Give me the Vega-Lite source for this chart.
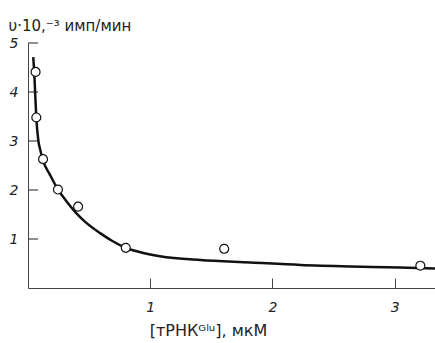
{
  "$schema": "https://vega.github.io/schema/vega-lite/v6.json",
  "autosize": "none",
  "width": 407,
  "height": 245,
  "padding": {"left": 28, "top": 43, "right": 0, "bottom": 55},
  "background": "white",
  "config": {
    "view": {"stroke": null},
    "axis": {
      "grid": false,
      "domainColor": "#444",
      "domainWidth": 1,
      "labelFont": "DejaVu Sans",
      "labelFontStyle": "italic",
      "labelFontSize": 14,
      "labelColor": "#222",
      "titleFont": "DejaVu Sans",
      "titleFontWeight": "normal",
      "titleColor": "#222"
    }
  },
  "datasets": {
    "curve": [
      {"c": 0.043, "v": 4.71},
      {"c": 0.052, "v": 4.35},
      {"c": 0.060, "v": 3.90},
      {"c": 0.068, "v": 3.48},
      {"c": 0.084, "v": 3.02},
      {"c": 0.100, "v": 2.82},
      {"c": 0.123, "v": 2.60},
      {"c": 0.180, "v": 2.31},
      {"c": 0.245, "v": 2.01},
      {"c": 0.305, "v": 1.80},
      {"c": 0.387, "v": 1.55},
      {"c": 0.468, "v": 1.35},
      {"c": 0.590, "v": 1.12},
      {"c": 0.690, "v": 0.96},
      {"c": 0.800, "v": 0.82},
      {"c": 0.920, "v": 0.73},
      {"c": 1.080, "v": 0.65},
      {"c": 1.410, "v": 0.57},
      {"c": 1.820, "v": 0.52},
      {"c": 2.230, "v": 0.47},
      {"c": 2.640, "v": 0.44},
      {"c": 3.040, "v": 0.42},
      {"c": 3.330, "v": 0.40}
    ],
    "points": [
      {"c": 0.062, "v": 4.41},
      {"c": 0.068, "v": 3.48},
      {"c": 0.123, "v": 2.63},
      {"c": 0.245, "v": 2.01},
      {"c": 0.410, "v": 1.66},
      {"c": 0.800, "v": 0.82},
      {"c": 1.605, "v": 0.80},
      {"c": 3.210, "v": 0.455}
    ],
    "yticks": [
      {"v": 1}, {"v": 2}, {"v": 3}, {"v": 4}, {"v": 5}
    ]
  },
  "layer": [
    {
      "data": {"name": "yticks"},
      "mark": {"type": "rule", "color": "#444", "strokeWidth": 1.2, "clip": false},
      "encoding": {
        "x": {"datum": 0, "type": "quantitative"},
        "x2": {"datum": 0.082},
        "y": {"field": "v", "type": "quantitative"}
      }
    },
    {
      "data": {"name": "curve"},
      "mark": {"type": "line", "interpolate": "monotone", "color": "#111", "strokeWidth": 2.5, "clip": true},
      "encoding": {
        "x": {
          "field": "c", "type": "quantitative",
          "scale": {"domain": [0, 3.33], "nice": false, "zero": false},
          "axis": {
            "values": [1, 2, 3],
            "format": "d",
            "ticks": true,
            "tickSize": -10,
            "tickColor": "#444",
            "tickWidth": 1,
            "labelPadding": 8,
            "labelBaseline": "line-top",
            "labelLineHeight": 42,
            "title": "[тРНКᴳˡᵘ], мкМ",
            "titleFontSize": 16,
            "titlePadding": 8,
            "titleX": 180
          }
        },
        "y": {
          "field": "v", "type": "quantitative",
          "scale": {"domain": [0, 5], "nice": false},
          "axis": {
            "values": [1, 2, 3, 4, 5],
            "format": "d",
            "ticks": false,
            "tickSize": 0,
            "labelPadding": 10,
            "title": "υ·10,⁻³ имп/мин",
            "titleAngle": 0,
            "titleAlign": "left",
            "titleBaseline": "middle",
            "titleFontSize": 15,
            "titleX": -20,
            "titleY": -18
          }
        }
      }
    },
    {
      "data": {"name": "points"},
      "mark": {"type": "point", "shape": "circle", "filled": false, "fill": "white", "fillOpacity": 1, "stroke": "#111", "strokeWidth": 1.2, "size": 80},
      "encoding": {
        "x": {"field": "c", "type": "quantitative"},
        "y": {"field": "v", "type": "quantitative"}
      }
    }
  ]
}
